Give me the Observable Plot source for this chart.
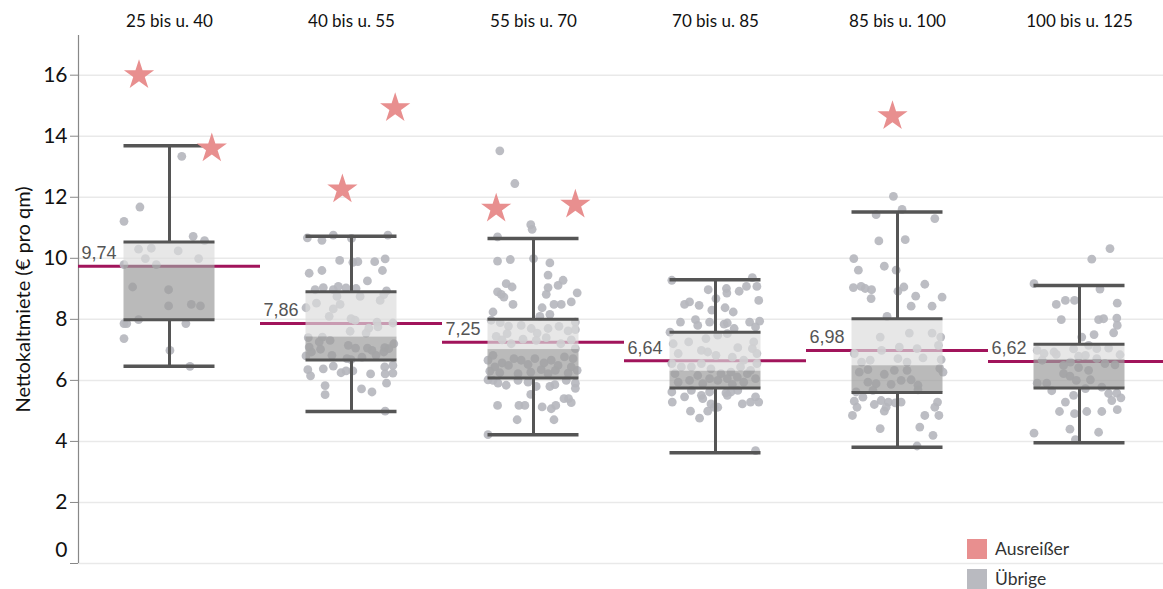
<!DOCTYPE html>
<html><head><meta charset="utf-8">
<script src="https://cdn.jsdelivr.net/npm/d3@7"></script>
<script src="https://cdn.jsdelivr.net/npm/@observablehq/plot@0.6"></script>
<style>
body{margin:0;background:#fff;font-family:Lato, sans-serif}
#wrap{position:relative;width:1163px;height:589px;overflow:hidden}
.legend{position:absolute;left:967px;font-size:17.5px;color:#333;display:flex;align-items:center;font-family:Lato, sans-serif}
.sw{width:20px;height:20px;margin-right:8px}
g[aria-label="fx-axis tick label"]{font-size:17px !important}
</style></head><body>
<div id="wrap"></div>
<script>
const categories = ["25 bis u. 40","40 bis u. 55","55 bis u. 70","70 bis u. 85","85 bis u. 100","100 bis u. 125"];
const means        = [9.74, 7.86, 7.25, 6.64, 6.98, 6.62];
const whiskerLow   = [6.46, 4.98, 4.22, 3.63, 3.81, 3.96];
const quartile1    = [7.99, 6.67, 6.08, 5.75, 5.60, 5.75];
const medians      = [9.77, 7.42, 7.01, 6.30, 6.48, 6.68];
const quartile3    = [10.53, 8.90, 8.00, 7.58, 8.02, 7.18];
const whiskerHigh  = [13.69, 10.72, 10.65, 9.30, 11.52, 9.11];
const yTicks = [0, 2, 4, 6, 8, 10, 12, 14, 16];

// outliers: [group index, jitter (-1..1 of box width), value]
const outliers = [[0,-0.67,16.0],[0,0.93,13.6],[1,-0.20,12.26],[1,0.96,14.92],[2,-0.82,11.63],[2,0.92,11.76],[4,-0.11,14.66]];

// other points: [jitter, value]
const pts1 = [[0.27,13.34],[-0.65,11.68],[-1.0,11.21],[0.52,10.72],[0.77,10.58],[-0.68,10.30],[-0.40,10.33],[0.19,10.24],[-0.53,9.99],[0.64,9.99],[-1.0,9.79],[-0.29,9.79],[-0.81,9.06],[-0.02,8.97],[-0.02,8.44],[0.48,8.49],[0.68,8.44],[-1.0,7.86],[-0.94,7.86],[-0.68,7.99],[0.36,7.86],[-1.0,7.37],[0.01,6.98],[0.45,6.46]];
const pts2 = [[-0.97,10.67],[-0.65,10.59],[-0.40,10.76],[0.0,10.65],[0.80,10.76],[-0.26,9.93],[0.03,9.87],[0.14,9.89],[0.51,9.89],[0.74,9.98],[-0.93,9.51],[-0.65,9.60],[0.68,9.60],[0.35,9.26],[-0.80,8.97],[-0.62,9.04],[-0.40,8.97],[-0.29,9.08],[-0.12,9.03],[0.10,9.01],[0.77,8.93],[0.71,8.81],[0.63,8.62],[-0.32,8.75],[0.19,8.75],[-0.77,8.53],[-0.40,8.34],[-0.25,8.49],[-0.49,8.10],[-1.0,8.38],[-0.01,8.02],[0.08,7.97],[0.38,7.71],[0.56,7.91],[-0.03,7.61],[0.32,7.55],[0.58,7.75],[0.91,7.88],[-0.95,7.40],[-0.64,7.42],[-0.47,7.31],[-0.71,7.26],[-0.07,7.15],[0.09,7.06],[0.35,7.06],[0.45,6.98],[0.73,7.07],[0.93,7.20],[-0.93,7.09],[-0.88,6.93],[-1.0,6.80],[-0.68,7.02],[-0.43,6.82],[-0.10,6.71],[-0.01,6.68],[0.23,6.76],[0.54,6.82],[0.71,6.93],[0.82,7.04],[-0.96,6.35],[-0.90,6.15],[-0.62,6.38],[-0.40,6.47],[-0.23,6.25],[-0.12,6.31],[0.03,6.31],[0.42,6.21],[0.73,6.44],[0.74,6.21],[0.91,6.49],[0.91,6.24],[0.77,5.91],[-0.58,5.83],[-0.58,5.53],[0.22,5.72],[0.45,5.62],[0.74,4.99]];
const pts3 = [[-0.74,13.52],[-0.41,12.45],[-0.06,11.10],[-0.03,10.95],[-0.79,10.70],[-0.79,9.91],[-0.51,9.96],[0.0,9.99],[0.36,9.85],[0.32,9.45],[0.65,9.28],[0.54,9.11],[-0.60,9.17],[-0.47,9.06],[-0.79,8.90],[-0.71,8.82],[-0.65,8.73],[0.32,9.04],[0.28,8.82],[0.96,8.87],[0.83,8.57],[0.61,8.49],[0.45,8.49],[0.19,8.38],[-0.45,8.49],[-0.89,8.24],[0.14,8.10],[0.36,8.16],[-0.93,7.97],[-0.73,7.89],[-0.55,7.78],[-0.58,7.53],[-0.27,7.80],[-0.05,7.70],[0.08,7.55],[0.32,7.70],[0.56,7.77],[0.76,7.62],[0.92,7.91],[0.92,7.66],[-0.82,7.44],[-0.69,7.33],[-0.49,7.20],[-0.23,7.35],[0.06,7.31],[0.28,7.40],[0.60,7.20],[0.83,7.33],[0.92,7.04],[-1.0,6.66],[-0.89,6.82],[-0.85,6.44],[-0.69,6.57],[-0.55,6.49],[-0.43,6.71],[-0.27,6.66],[-0.12,6.52],[0.03,6.71],[0.23,6.57],[0.39,6.66],[0.54,6.49],[0.68,6.77],[0.87,6.71],[0.96,6.33],[-0.96,6.30],[-0.74,6.25],[-0.34,6.22],[-0.06,6.27],[0.17,6.35],[0.32,6.22],[0.48,6.33],[0.76,6.24],[0.83,6.44],[-1.0,6.02],[-0.89,6.00],[-0.78,5.91],[-0.60,5.84],[-0.34,6.00],[-0.12,5.94],[0.06,5.80],[0.36,5.80],[0.47,5.86],[0.72,6.00],[0.92,5.91],[0.92,5.74],[-0.06,5.54],[-0.79,5.18],[-0.32,5.18],[-0.19,5.18],[0.19,5.13],[0.39,5.07],[0.49,5.18],[0.67,5.40],[0.77,5.40],[0.83,5.27],[-0.36,4.71],[0.45,4.71],[-1.0,4.22]];
const pts4 = [[-0.96,9.28],[0.81,9.37],[0.91,9.08],[-0.16,8.97],[0.24,9.01],[0.25,8.86],[0.52,8.92],[0.68,9.08],[0.01,8.68],[0.95,8.62],[-0.68,8.49],[-0.57,8.57],[-0.36,8.46],[-0.08,8.30],[0.21,8.38],[0.39,8.24],[-0.77,7.91],[-0.44,7.99],[-0.39,7.80],[-0.13,7.91],[0.19,7.84],[0.26,7.88],[0.41,7.70],[0.75,7.91],[0.97,7.94],[0.88,7.75],[-1.0,7.58],[-0.93,7.20],[-0.59,7.26],[-0.21,7.37],[0.05,7.48],[0.26,7.53],[0.49,7.07],[0.84,7.26],[0.81,7.04],[0.91,6.88],[-0.82,6.88],[-0.31,6.98],[-0.17,6.93],[0.01,6.82],[0.37,6.76],[0.62,6.66],[-0.96,6.55],[-0.75,6.44],[-0.53,6.44],[-0.31,6.55],[-0.10,6.38],[0.12,6.22],[0.34,6.27],[0.55,6.44],[0.77,6.33],[0.91,6.55],[-0.89,6.22],[-0.39,6.16],[-0.13,6.06],[0.05,6.00],[0.26,6.06],[0.48,6.11],[0.70,6.22],[0.88,6.06],[-0.82,5.94],[-0.57,6.00],[-0.28,5.89],[0.37,5.87],[0.62,5.94],[-0.96,5.62],[-0.95,5.29],[-0.68,5.46],[-0.53,5.67],[-0.31,5.51],[-0.28,5.40],[-0.13,5.62],[-0.03,5.12],[0.05,5.12],[0.23,5.59],[0.34,5.62],[0.49,5.67],[0.59,5.23],[0.77,5.29],[0.88,5.46],[0.95,5.29],[0.26,5.51],[-0.55,4.99],[-0.35,4.76],[-0.17,4.99],[-0.10,5.23],[0.88,3.70]];
const pts5 = [[-0.09,12.03],[0.10,11.60],[-0.47,11.43],[0.82,11.30],[-0.41,10.57],[0.17,10.61],[-0.96,9.99],[-0.86,9.61],[-0.29,9.74],[-0.03,9.61],[-0.97,9.04],[-0.80,9.08],[-0.71,9.01],[-0.57,8.97],[-0.58,8.68],[0.14,9.06],[0.01,8.92],[0.40,8.76],[0.60,9.15],[0.98,8.73],[0.30,8.43],[0.76,8.43],[-0.23,8.10],[-0.38,7.42],[0.26,7.55],[0.76,7.55],[0.95,7.42],[-0.95,6.88],[-0.35,6.98],[0.04,7.09],[0.43,7.04],[0.90,7.15],[0.56,6.74],[-0.79,6.60],[-0.60,6.66],[0.01,6.71],[0.21,6.60],[0.96,6.68],[-0.84,6.27],[-0.65,6.35],[-0.29,6.20],[-0.07,6.33],[0.21,6.33],[1.0,6.27],[0.93,6.39],[-0.65,5.94],[-0.47,5.89],[-0.14,5.87],[0.08,6.00],[0.30,6.02],[0.45,5.84],[-0.91,5.62],[-0.54,5.67],[0.45,5.69],[-0.95,5.32],[-0.76,5.45],[-0.36,5.34],[-0.20,5.29],[0.08,5.29],[-0.89,5.12],[-0.51,5.21],[-0.25,5.12],[-0.29,4.99],[-0.05,5.26],[0.88,5.29],[0.82,5.12],[-0.99,4.85],[0.60,4.85],[0.91,4.85],[-0.38,4.42],[0.49,4.47],[0.78,4.20],[0.43,3.85]];
const pts6 = [[0.67,10.32],[0.27,9.97],[-1.0,9.17],[0.45,8.99],[-0.51,8.49],[-0.31,8.62],[-0.11,8.62],[0.83,8.53],[-0.40,7.99],[0.42,7.99],[0.53,8.02],[0.82,8.04],[0.83,7.80],[0.75,7.56],[0.05,7.42],[0.32,7.50],[-0.93,6.98],[-0.78,6.88],[-0.56,6.93],[-0.51,6.85],[-0.13,7.03],[-0.02,6.79],[0.13,6.82],[0.20,7.15],[0.38,7.04],[0.64,7.06],[0.89,6.84],[0.78,6.51],[-0.82,6.66],[-0.35,6.49],[-0.20,6.60],[-0.02,6.42],[0.20,6.33],[0.38,6.71],[0.56,6.55],[-0.93,5.91],[-0.72,5.91],[-0.61,5.66],[-0.35,6.22],[-0.21,6.14],[-0.07,6.00],[0.13,5.73],[0.24,6.02],[0.49,5.78],[0.64,5.57],[0.82,5.58],[0.91,5.43],[0.71,5.34],[-0.31,5.29],[-0.13,5.51],[-0.44,4.98],[-0.11,4.91],[0.16,4.98],[0.49,4.98],[0.83,5.04],[-1.0,4.27],[-0.21,4.40],[0.42,4.30],[-0.09,4.06]];
const groupPoints = [pts1, pts2, pts3, pts4, pts5, pts6];

const boxHalf = 0.5;
const rows = [];
groupPoints.forEach((arr, i) => arr.forEach(([j, v]) => rows.push({group: categories[i], j, v})));
const stats = categories.map((c, i) => ({group: c, lo: whiskerLow[i], q1: quartile1[i], med: medians[i], q3: quartile3[i], hi: whiskerHigh[i], mean: means[i]}));
const outRows = outliers.map(([i, j, v]) => ({group: categories[i], j, v}));
const fmt = m => m.toFixed(2).replace(".", ",");

const plot = Plot.plot({
  width: 1163, height: 589,
  marginLeft: 77, marginRight: -7, marginTop: 35, marginBottom: 26,
  style: {fontFamily: "Lato, sans-serif", fontSize: "15px", color: "#111", background: "transparent"},
  fx: {domain: categories, padding: 0, label: null},
  x: {domain: [-1, 1], axis: null},
  y: {domain: [0, 17.3]},
  marks: [
    Plot.gridY(yTicks, {stroke: "#e9e9e9", strokeOpacity: 1, strokeWidth: 1.5}),
    Plot.axisFx({anchor: "top", tickSize: 0, tickPadding: 9, label: null}),
    Plot.axisY(yTicks, {tickSize: 8, tickPadding: 3, stroke: "#888", fontSize: 21, tickFormat: d => d === 0 ? "" : d, label: null}),
    Plot.axisY([0], {tickSize: 0, tickPadding: 11, fontSize: 21, dy: -13, label: null}),
    Plot.axisY([], {tickSize: 0, fontSize: 20, label: "Nettokaltmiete (€ pro qm)", labelAnchor: "center", labelOffset: 63, labelArrow: "none"}),
    Plot.ruleX([categories[0]], {fx: d => d, x: () => -1, y1: () => 0, y2: () => 17.3, stroke: "#888", strokeWidth: 1.2}),
    Plot.ruleY(stats, {fx: "group", y: "mean", stroke: "#a1145b", strokeWidth: 3}),
    Plot.dot(rows, {fx: "group", x: d => d.j * boxHalf, y: "v", r: 4.4, fill: "#b5b6bc", fillOpacity: 0.9}),
    Plot.rect(stats, {fx: "group", x1: () => -boxHalf, x2: () => boxHalf, y1: "med", y2: "q3", fill: "#dcdcdc", fillOpacity: 0.68}),
    Plot.rect(stats, {fx: "group", x1: () => -boxHalf, x2: () => boxHalf, y1: "q1", y2: "med", fill: "#9c9c9c", fillOpacity: 0.7}),
    Plot.ruleX(stats, {fx: "group", x: () => 0, y1: "q3", y2: "hi", stroke: "#555", strokeWidth: 3}),
    Plot.ruleX(stats, {fx: "group", x: () => 0, y1: "lo", y2: "q1", stroke: "#555", strokeWidth: 3}),
    Plot.ruleY(stats, {fx: "group", y: "q1", x1: () => -boxHalf, x2: () => boxHalf, stroke: "#555", strokeWidth: 3}),
    Plot.ruleY(stats, {fx: "group", y: "q3", x1: () => -boxHalf, x2: () => boxHalf, stroke: "#555", strokeWidth: 3}),
    Plot.ruleY(stats, {fx: "group", y: "lo", x1: () => -boxHalf, x2: () => boxHalf, stroke: "#555", strokeWidth: 3.5}),
    Plot.ruleY(stats, {fx: "group", y: "hi", x1: () => -boxHalf, x2: () => boxHalf, stroke: "#555", strokeWidth: 3.5}),
    Plot.dot(outRows, {fx: "group", x: d => d.j * boxHalf, y: "v", symbol: "star", r: 9.5, fill: "#e88f8f", stroke: "none"}),
    Plot.text(stats, {fx: "group", x: () => -1, y: "mean", text: d => fmt(d.mean), textAnchor: "start", dx: 3, dy: -13, fill: "#555", fontSize: 18, fontFamily: "Liberation Sans, Arial, sans-serif"})
  ]
});
const wrap = document.getElementById("wrap");
wrap.appendChild(plot);
const legend = [["Ausreißer", "#e88f8f", 538], ["Übrige", "#b9bac0", 568]];
for (const [t, c, top] of legend) {
  const d = document.createElement("div");
  d.className = "legend";
  d.style.top = top + "px";
  d.innerHTML = `<div class="sw" style="background:${c}"></div><span>${t}</span>`;
  wrap.appendChild(d);
}
</script>
</body></html>
